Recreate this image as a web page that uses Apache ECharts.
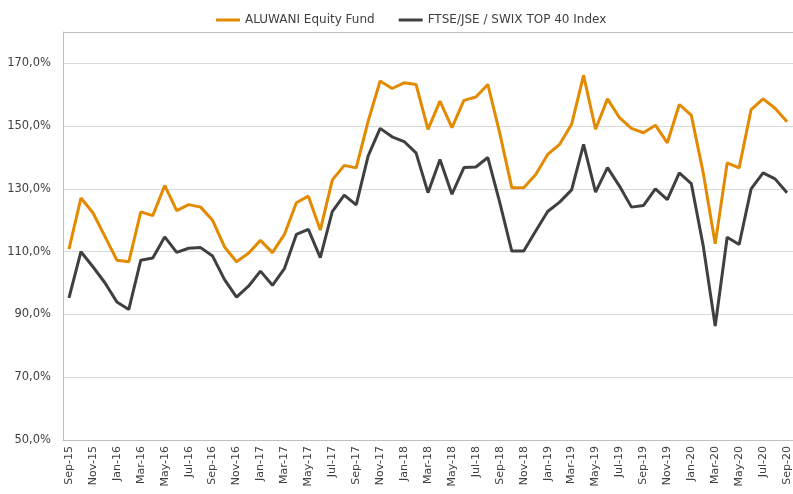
<!DOCTYPE html>
<html>
<head>
<meta charset="utf-8">
<script src="https://cdn.jsdelivr.net/npm/echarts@6/dist/echarts.min.js"></script>
<style>
  html, body { margin: 0; padding: 0; background: #fff; }
  #chart { width: 793px; height: 494px; }
</style>
</head>
<body>
<div id="chart"></div>
<script>
const months = [
  'Sep-15','Oct-15','Nov-15','Dec-15','Jan-16','Feb-16','Mar-16','Apr-16','May-16','Jun-16','Jul-16','Aug-16',
  'Sep-16','Oct-16','Nov-16','Dec-16','Jan-17','Feb-17','Mar-17','Apr-17','May-17','Jun-17','Jul-17','Aug-17',
  'Sep-17','Oct-17','Nov-17','Dec-17','Jan-18','Feb-18','Mar-18','Apr-18','May-18','Jun-18','Jul-18','Aug-18',
  'Sep-18','Oct-18','Nov-18','Dec-18','Jan-19','Feb-19','Mar-19','Apr-19','May-19','Jun-19','Jul-19','Aug-19',
  'Sep-19','Oct-19','Nov-19','Dec-19','Jan-20','Feb-20','Mar-20','Apr-20','May-20','Jun-20','Jul-20','Aug-20',
  'Sep-20'
]

const fundValues = [
  110.8, 127.1, 122.4, 114.9, 107.3, 106.8, 122.7, 121.5, 131.1, 123.1, 125.0, 124.2,
  120.0, 111.5, 106.8, 109.5, 113.6, 109.7, 115.5, 125.6, 127.7, 116.9, 132.8, 137.5,
  136.7, 151.6, 164.4, 162.0, 163.8, 163.3, 149.0, 158.0, 149.5, 158.2, 159.3, 163.3,
  147.7, 130.4, 130.4, 134.6, 141.0, 144.2, 150.6, 166.2, 149.0, 158.7, 152.7, 149.3,
  147.9, 150.3, 144.7, 156.9, 153.5, 135.1, 112.5, 138.3, 136.7, 155.3, 158.7, 155.7,
  151.4
]

const indexValues = [
  95.3, 110.0, 105.2, 100.1, 94.0, 91.6, 107.3, 108.0, 114.7, 109.8, 111.1, 111.3,
  108.6, 101.1, 95.5, 99.0, 103.8, 99.3, 104.6, 115.5, 117.1, 108.1, 122.8, 128.0,
  124.9, 140.5, 149.3, 146.6, 145.1, 141.5, 128.8, 139.4, 128.3, 136.8, 137.0, 140.0,
  125.6, 110.2, 110.2, 116.6, 122.8, 125.8, 129.7, 144.2, 129.0, 136.8, 130.9, 124.2,
  124.7, 130.0, 126.6, 135.1, 131.7, 111.8, 86.3, 114.6, 112.3, 130.0, 135.1, 133.2,
  128.8
]

const FONT = '"DejaVu Sans", sans-serif'
const TEXT = '#404040'

const chart = echarts.init(document.getElementById('chart'), null, { renderer: 'canvas' })

chart.setOption({
  backgroundColor: '#fff',
  animation: false,
  legend: {
    top: 9,
    left: 211,
    icon: 'rect',
    itemWidth: 24,
    itemHeight: 3,
    itemGap: 24,
    textStyle: { color: TEXT, fontSize: 12, fontFamily: FONT },
    data: ['ALUWANI Equity Fund', 'FTSE/JSE / SWIX TOP 40 Index']
  },
  grid: { left: 63, right: -2, top: 32, bottom: 54 },
  xAxis: {
    type: 'category',
    data: months,
    boundaryGap: true,
    axisLine: { lineStyle: { color: '#bfbfbf', width: 1 } },
    axisTick: { show: false },
    axisLabel: {
      interval: 1,
      rotate: 90,
      margin: 6,
      color: TEXT,
      fontSize: 11,
      fontFamily: FONT
    }
  },
  yAxis: {
    type: 'value',
    min: 50,
    max: 180,
    interval: 20,
    axisLine: { show: true, lineStyle: { color: '#bfbfbf', width: 1 } },
    axisTick: { show: false },
    splitLine: { lineStyle: { color: '#d9d9d9', width: 1 } },
    axisLabel: {
      margin: 12,
      color: TEXT,
      fontSize: 11.5,
      fontFamily: FONT,
      formatter: v => v === 180 ? '' : v.toFixed(1).replace('.', ',') + '%'
    }
  },
  series: [
    {
      name: 'ALUWANI Equity Fund',
      type: 'line',
      data: fundValues,
      symbol: 'none',
      lineStyle: { color: '#e38a00', width: 3 },
      itemStyle: { color: '#e38a00' },
      // plot-area top border
      markLine: {
        silent: true,
        symbol: 'none',
        label: { show: false },
        lineStyle: { color: '#bfbfbf', width: 1, type: 'solid' },
        data: [{ yAxis: 180 }]
      }
    },
    {
      name: 'FTSE/JSE / SWIX TOP 40 Index',
      type: 'line',
      data: indexValues,
      symbol: 'none',
      lineStyle: { color: '#404040', width: 3 },
      itemStyle: { color: '#404040' }
    }
  ]
})
</script>
</body>
</html>
